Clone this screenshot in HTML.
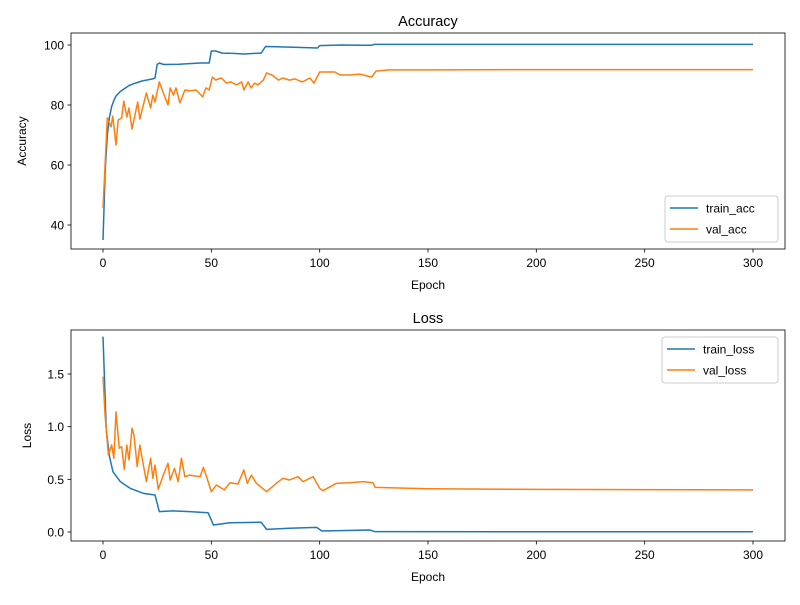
<!DOCTYPE html>
<html><head><meta charset="utf-8"><style>
body{margin:0;background:#fff}
svg text{font-family:"Liberation Sans","DejaVu Sans",sans-serif;fill:#000}
</style></head><body>
<svg id="chart" width="800" height="600" viewBox="0 0 800 600" xmlns="http://www.w3.org/2000/svg"></svg>
<script>
const xTicks=[0,50,100,150,200,250,300];
const accTicks=[40,60,80,100];
const lossTicks=[0.0,0.5,1.0,1.5];
const lossTickLabels=["0.0","0.5","1.0","1.5"];
const trainAccEpochs=[0,1,2,3,4,5,6,8,10,12,15,18,20,23,24,25,26,28,35,40,45,49,50,52,55,60,65,70,73,75,80,90,99,100,110,120,124,125,300];
const trainAccValues=[35,58,70,76,79.5,81.5,83,84.5,85.5,86.5,87.3,88,88.3,88.7,89,93.5,94,93.5,93.6,93.8,94,94,98,98,97.3,97.2,97,97.2,97.3,99.5,99.4,99.2,99,99.8,100,99.9,99.9,100.2,100.2];
const valAccEpochs=[0,2,3.7,4.5,6,7,8.6,9.6,11,12,13.4,16,17,20,22,23,24,26,27.7,30,31,32.5,33.7,35.5,37.8,40,43,46,47.5,49,50.5,52,54.6,57,59,61.7,64,65,67,68.3,70,71.5,74,75.5,78,81,83,86,88.6,92,95.5,97.4,100,107,109.4,114,118.6,124,126,132,150,200,250,300];
const valAccValues=[45.7,75.7,72.7,76.3,66.7,75,75.7,81.3,76,79,72,81,75.3,84,79,83.3,81,87.7,84.3,80,85.7,83.3,85.7,80.7,85,84.7,85,82.7,85.7,85,89.3,88.3,89,87.3,87.7,86.7,87.7,85,87.7,85.7,87.3,86.7,88.3,90.7,90,88.3,89,88.3,88.7,87.7,89,87.3,91,91,90,90,90.3,89.3,91.3,91.7,91.7,91.8,91.8,91.8];
const trainLossEpochs=[0,1.5,3,4.6,8,12.5,18.6,24,26,32,40,48.5,51,58.5,73,75.5,86,98.6,101,123,125.6,300];
const trainLossValues=[1.855,0.97,0.715,0.573,0.478,0.415,0.367,0.351,0.193,0.2,0.193,0.183,0.066,0.088,0.092,0.025,0.035,0.044,0.01,0.019,0.003,0.002];
const valLossEpochs=[0,1,2.5,4,5,6,7.5,8.6,9.8,11,12,13.4,14.3,15.8,17,20,22,23,24,25.5,27.8,30,31,33,34.7,36.2,37.8,40,44.8,46.3,47.8,50,52.3,56,58.6,62.3,65,66.6,68.5,70.8,75.5,80,83,86,90,92.3,97,100,101.5,107.7,114,120,124.6,125.6,132,150,200,300];
const valLossValues=[1.475,1.095,0.73,0.826,0.70,1.14,0.795,0.81,0.595,0.826,0.684,0.985,0.92,0.62,0.826,0.478,0.70,0.51,0.636,0.405,0.54,0.652,0.494,0.605,0.478,0.70,0.525,0.54,0.525,0.614,0.525,0.383,0.446,0.40,0.468,0.456,0.589,0.462,0.54,0.462,0.383,0.462,0.51,0.494,0.525,0.478,0.525,0.415,0.392,0.462,0.468,0.478,0.468,0.424,0.42,0.41,0.405,0.40];

const NS="http://www.w3.org/2000/svg";
const svg=document.getElementById('chart');
function mk(tag,attrs,parent){const e=document.createElementNS(NS,tag);for(const k in attrs)e.setAttribute(k,attrs[k]);(parent||svg).appendChild(e);return e;}
const X0=71,X1=785;
function xScale(v){return 103+v*(650/300);}

function panel(cfg){
  const g=mk('g',{});
  
  
  const yScale=v=>cfg.yRef0px+(v-cfg.yRef0)*cfg.pxPer;
  cfg.series.forEach(s=>{
    const pts=s.ex.map((e,i)=>xScale(e).toFixed(2)+','+yScale(s.ey[i]).toFixed(2)).join(' ');
    const p=mk('polyline',{points:pts,fill:'none',stroke:s.color,'stroke-width':1.5,'stroke-linejoin':'round'},g);
    
    
  });
  const fr=mk('rect',{x:X0,y:cfg.top,width:X1-X0,height:cfg.bottom-cfg.top,fill:'none',stroke:'#000','stroke-width':0.8},g);
  
  
  xTicks.forEach(t=>{
    const x=xScale(t);
    mk('line',{x1:x,x2:x,y1:cfg.bottom,y2:cfg.bottom+3.5,stroke:'#000','stroke-width':0.8},g);
    const tx=mk('text',{x:x,y:cfg.bottom+18,'font-size':12,'text-anchor':'middle'},g);
    tx.textContent=t;
    
    
  });
  cfg.yTicks.forEach((t,i)=>{
    const y=yScale(t);
    mk('line',{x1:X0-3.5,x2:X0,y1:y,y2:y,stroke:'#000','stroke-width':0.8},g);
    const tx=mk('text',{x:X0-7,y:y+4.5,'font-size':12,'text-anchor':'end'},g);
    tx.textContent=cfg.yLabels[i];
    
    
  });
  const ti=mk('text',{x:(X0+X1)/2,y:cfg.top-7,'font-size':14.5,'text-anchor':'middle'},g);
  ti.textContent=cfg.title;
  
  
  const xl=mk('text',{x:(X0+X1)/2,y:cfg.bottom+40,'font-size':12,'text-anchor':'middle'},g);
  xl.textContent='Epoch';
  
  
  const cy=(cfg.top+cfg.bottom)/2;
  const yl=mk('text',{x:cfg.ylabX,y:cy,'font-size':12,'text-anchor':'middle',transform:`rotate(-90 ${cfg.ylabX} ${cy})`},g);
  yl.textContent=cfg.ylabel;
  
  
  const lg=mk('g',{},g);
  
  
  mk('rect',{x:cfg.lx,y:cfg.ly,width:778-cfg.lx,height:46,rx:3,fill:'#fff','fill-opacity':0.8,stroke:'#ccc','stroke-width':1},lg);
  cfg.series.forEach((s,i)=>{
    const y=cfg.ly+12+i*21;
    mk('line',{x1:cfg.lx+5,x2:cfg.lx+33,y1:y,y2:y,stroke:s.color,'stroke-width':1.5},lg);
    const t=mk('text',{x:cfg.lx+41,y:y+4.5,'font-size':12},lg);
    t.textContent=s.label;
    
    
  });
}
panel({name:'accuracy-panel',title:'Accuracy',ylabel:'Accuracy',top:33,bottom:249,yRef0:40,yRef0px:225,pxPer:-3,
  yTicks:accTicks,yLabels:accTicks.map(String),ylabX:26,lx:665,ly:196,
  series:[{label:'train_acc',color:'#1f77b4',ex:trainAccEpochs,ey:trainAccValues},{label:'val_acc',color:'#ff7f0e',ex:valAccEpochs,ey:valAccValues}]});
panel({name:'loss-panel',title:'Loss',ylabel:'Loss',top:330,bottom:541,yRef0:0,yRef0px:532,pxPer:-105.33,
  yTicks:lossTicks,yLabels:lossTickLabels,ylabX:31,lx:662,ly:337,
  series:[{label:'train_loss',color:'#1f77b4',ex:trainLossEpochs,ey:trainLossValues},{label:'val_loss',color:'#ff7f0e',ex:valLossEpochs,ey:valLossValues}]});
</script>
</body></html>
